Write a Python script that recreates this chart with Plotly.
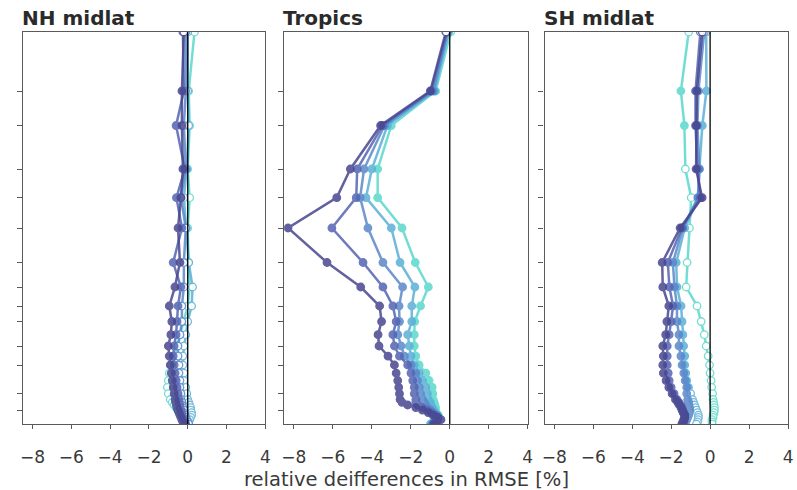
import plotly.graph_objects as go

# ---------------- data ----------------
levels_hpa = [10, 20, 30, 50, 70, 100, 150, 200, 250, 300, 350, 400, 450, 500, 550,
              600, 650, 700, 750, 775, 800, 825, 850, 875, 900, 925, 950, 975, 1000]
ytick_hpa = [20, 30, 50, 70, 100, 150, 200, 250, 300, 400, 500, 700, 850]
xtick_vals = [-8, -6, -4, -2, 0, 2, 4]
panel_titles = ["NH midlat", "Tropics", "SH midlat"]
series_colors = ["#48468f", "#5565b3", "#5a88cb", "#5cb0d8", "#5fd8cc"]

# NH midlat
nh_s1 = [-0.2, -0.3, -0.3, -0.25, -0.35, -0.5, -0.4, -0.66, -0.95, -0.82, -0.87, -1.0, -0.95, -0.9, -0.85,
         -0.8, -0.75, -0.7, -0.65, -0.62, -0.58, -0.55, -0.5, -0.45, -0.4, -0.35, -0.3, -0.25, -0.2]
nh_s2 = [-0.25, -0.2, -0.6, -0.15, -0.58, -0.3, -0.75, -0.35, -0.5, -0.55, -0.6, -0.7, -0.75, -0.7, -0.65,
         -0.6, -0.55, -0.5, -0.45, -0.45, -0.4, -0.4, -0.35, -0.3, -0.3, -0.25, -0.2, -0.15, -0.1]
nh_s3 = [-0.1, -0.1, -0.2, -0.1, -0.35, -0.1, -0.2, -0.2, -0.3, -0.3, -0.4, -0.5, -0.5, -0.45, -0.45,
         -0.4, -0.4, -0.35, -0.35, -0.3, -0.3, -0.25, -0.2, -0.2, -0.15, -0.1, -0.05, 0.0, 0.05]
nh_s4 = [0.0, 0.0, 0.05, -0.05, -0.2, -0.07, 0.05, 0.25, 0.2, 0.0, -0.1, -0.2, -0.25, -0.25, -0.2,
         -0.2, -0.1, -0.05, 0.0, 0.05, 0.1, 0.15, 0.15, 0.2, 0.2, 0.15, 0.1, 0.05, 0.0]
nh_s5 = [0.35, 0.05, 0.1, 0.0, 0.1, 0.0, 0.05, 0.1, 0.0, -0.2, -0.4, -0.55, -0.7, -0.85, -0.95,
         -1.0, -1.05, -1.0, -0.9, -0.8, -0.7, -0.6, -0.5, -0.4, -0.3, -0.25, -0.2, -0.15, -0.1]
nh_sig = ["0" + "1" * 28, "0" + "1" * 28, "0" * 29, "0" * 29, "0" * 29]

# Tropics
tr_s1 = [-0.2, -1.0, -3.55, -5.1, -5.8, -8.3, -6.3, -4.57, -3.6, -3.5, -3.68, -3.63, -3.17, -2.84, -2.75,
         -2.67, -2.62, -2.58, -2.55, -2.45, -2.16, -1.74, -1.4, -1.1, -0.86, -0.6, -0.45, -0.6, -0.8]
tr_s2 = [-0.15, -0.95, -3.45, -4.75, -4.8, -6.05, -4.45, -3.43, -2.92, -2.75, -2.92, -2.84, -2.58, -2.16, -1.99,
         -1.9, -1.82, -1.82, -1.74, -1.74, -1.66, -1.4, -1.15, -0.95, -0.76, -0.65, -0.6, -0.7, -0.85]
tr_s3 = [-0.1, -0.85, -3.35, -4.4, -4.6, -4.2, -3.43, -2.42, -2.6, -2.58, -2.67, -2.5, -2.33, -1.99, -1.74,
         -1.66, -1.57, -1.5, -1.4, -1.3, -1.23, -1.15, -0.98, -0.85, -0.69, -0.62, -0.65, -0.75, -0.9]
tr_s4 = [-0.05, -0.78, -3.2, -4.0, -4.3, -3.0, -2.55, -1.79, -1.95, -1.95, -2.16, -2.08, -1.99, -1.82, -1.57,
         -1.4, -1.23, -1.15, -1.1, -1.0, -0.98, -0.9, -0.82, -0.75, -0.64, -0.62, -0.7, -0.8, -0.95]
tr_s5 = [0.05, -0.72, -3.0, -3.7, -3.7, -2.45, -1.77, -1.1, -1.5, -1.8, -1.82, -1.82, -1.74, -1.57, -1.23,
         -1.06, -0.9, -0.87, -0.85, -0.8, -0.76, -0.73, -0.73, -0.7, -0.59, -0.6, -0.7, -0.85, -1.0]
tr_sig = ["0" + "1" * 28] * 5

# SH midlat
sh_s1 = [-0.4, -0.68, -0.7, -0.72, -0.41, -1.54, -2.46, -2.43, -2.12, -2.22, -2.28, -2.43, -2.4, -2.43, -2.4,
         -2.26, -2.12, -1.95, -1.78, -1.66, -1.58, -1.49, -1.44, -1.38, -1.3, -1.3, -1.35, -1.4, -1.45]
sh_s2 = [-0.5, -0.75, -0.75, -0.65, -0.5, -1.45, -2.17, -2.09, -1.9, -2.0, -2.1, -2.2, -2.2, -2.2, -2.15,
         -2.1, -2.0, -1.85, -1.7, -1.6, -1.5, -1.45, -1.4, -1.35, -1.3, -1.3, -1.32, -1.35, -1.4]
sh_s3 = [-0.3, -0.6, -0.65, -0.55, -0.63, -1.4, -1.91, -1.83, -1.7, -1.7, -1.6, -1.6, -1.5, -1.44, -1.35,
         -1.28, -1.2, -1.2, -1.15, -1.1, -1.1, -1.05, -1.05, -1.1, -1.1, -1.15, -1.2, -1.25, -1.3]
sh_s4 = [-0.2, -0.19, -0.4, -0.55, -0.6, -1.3, -1.74, -1.7, -1.49, -1.44, -1.4, -1.36, -1.3, -1.3, -1.25,
         -1.2, -1.11, -1.0, -0.9, -0.85, -0.8, -0.75, -0.7, -0.65, -0.6, -0.6, -0.62, -0.65, -0.7]
sh_s5 = [-1.1, -1.5, -1.32, -1.27, -0.97, -1.06, -1.18, -1.23, -0.67, -0.46, -0.3, -0.2, -0.1, -0.03, 0.0,
         0.05, 0.08, 0.13, 0.15, 0.18, 0.2, 0.22, 0.22, 0.2, 0.15, 0.15, 0.1, 0.1, 0.1]
sh_sig = ["0" + "1" * 28, "0" + "1" * 28, "0" + "1" * 28, "0" + "1" * 16 + "0" * 12, "011" + "0" * 26]

panels = [
    ([nh_s1, nh_s2, nh_s3, nh_s4, nh_s5], nh_sig),
    ([tr_s1, tr_s2, tr_s3, tr_s4, tr_s5], tr_sig),
    ([sh_s1, sh_s2, sh_s3, sh_s4, sh_s5], sh_sig),
]

# ---------------- figure ----------------
W, H = 797, 490
x_dom_px = [(20, 265), (284, 530), (547, 793)]
y_top_px, y_bot_px = 32, 424

fig = go.Figure()
for p, (series, sig) in enumerate(panels):
    ax = "" if p == 0 else str(p + 1)
    # draw lightest first, darkest on top
    for k in reversed(range(len(series))):
        col = series_colors[k]
        fills = [col if s == "1" else "white" for s in sig[k]]
        fig.add_trace(go.Scatter(
            x=series[k], y=levels_hpa, mode="lines+markers",
            line=dict(color=col, width=2.5),
            marker=dict(size=7.5, color=fills, line=dict(color=col, width=1.3)),
            opacity=0.85, showlegend=False, cliponaxis=True,
            xaxis="x" + ax, yaxis="y" + ax,
        ))
    x0, x1 = x_dom_px[p]
    axis_common = dict(showline=True, mirror=True, linecolor="#5a5a5a", linewidth=1.3,
                       showgrid=False, zeroline=False, ticks="outside",
                       tickcolor="#5a5a5a", tickwidth=1)
    fig.update_layout(**{
        "xaxis" + ax: dict(domain=[x0 / W, x1 / W], range=[-8.5, 4], tickvals=xtick_vals,
                           anchor="y" + ax, ticklabelstandoff=13, ticklen=4,
                           tickfont=dict(size=17, color="#3a3a3a"), **axis_common),
        "yaxis" + ax: dict(domain=[1 - y_bot_px / H, 1 - y_top_px / H], type="log",
                           range=[3, 1], tickvals=ytick_hpa, showticklabels=False,
                           anchor="x" + ax, ticklen=5, **axis_common),
    })
    fig.add_shape(type="line", xref="x" + ax, yref="y" + ax + " domain",
                  x0=0, x1=0, y0=0, y1=1, line=dict(color="black", width=1.3), layer="above")
    fig.add_annotation(text="<b>" + panel_titles[p] + "</b>", xref="paper", yref="paper",
                       x=(x0 - 3) / W, y=1 - 18 / H, xanchor="left", yanchor="middle", showarrow=False,
                       font=dict(size=20, color="#2a2a2a"))

fig.add_annotation(text="relative deifferences in RMSE [%]", xref="paper", yref="paper",
                   x=408 / W, y=1 - 479 / H, xanchor="center", yanchor="middle", showarrow=False,
                   font=dict(size=19.5, color="#3a3a3a"))

fig.update_layout(width=W, height=H, margin=dict(l=0, r=0, t=0, b=0),
                  paper_bgcolor="white", plot_bgcolor="white",
                  font=dict(family="DejaVu Sans"))

fig.write_html("out.html")
